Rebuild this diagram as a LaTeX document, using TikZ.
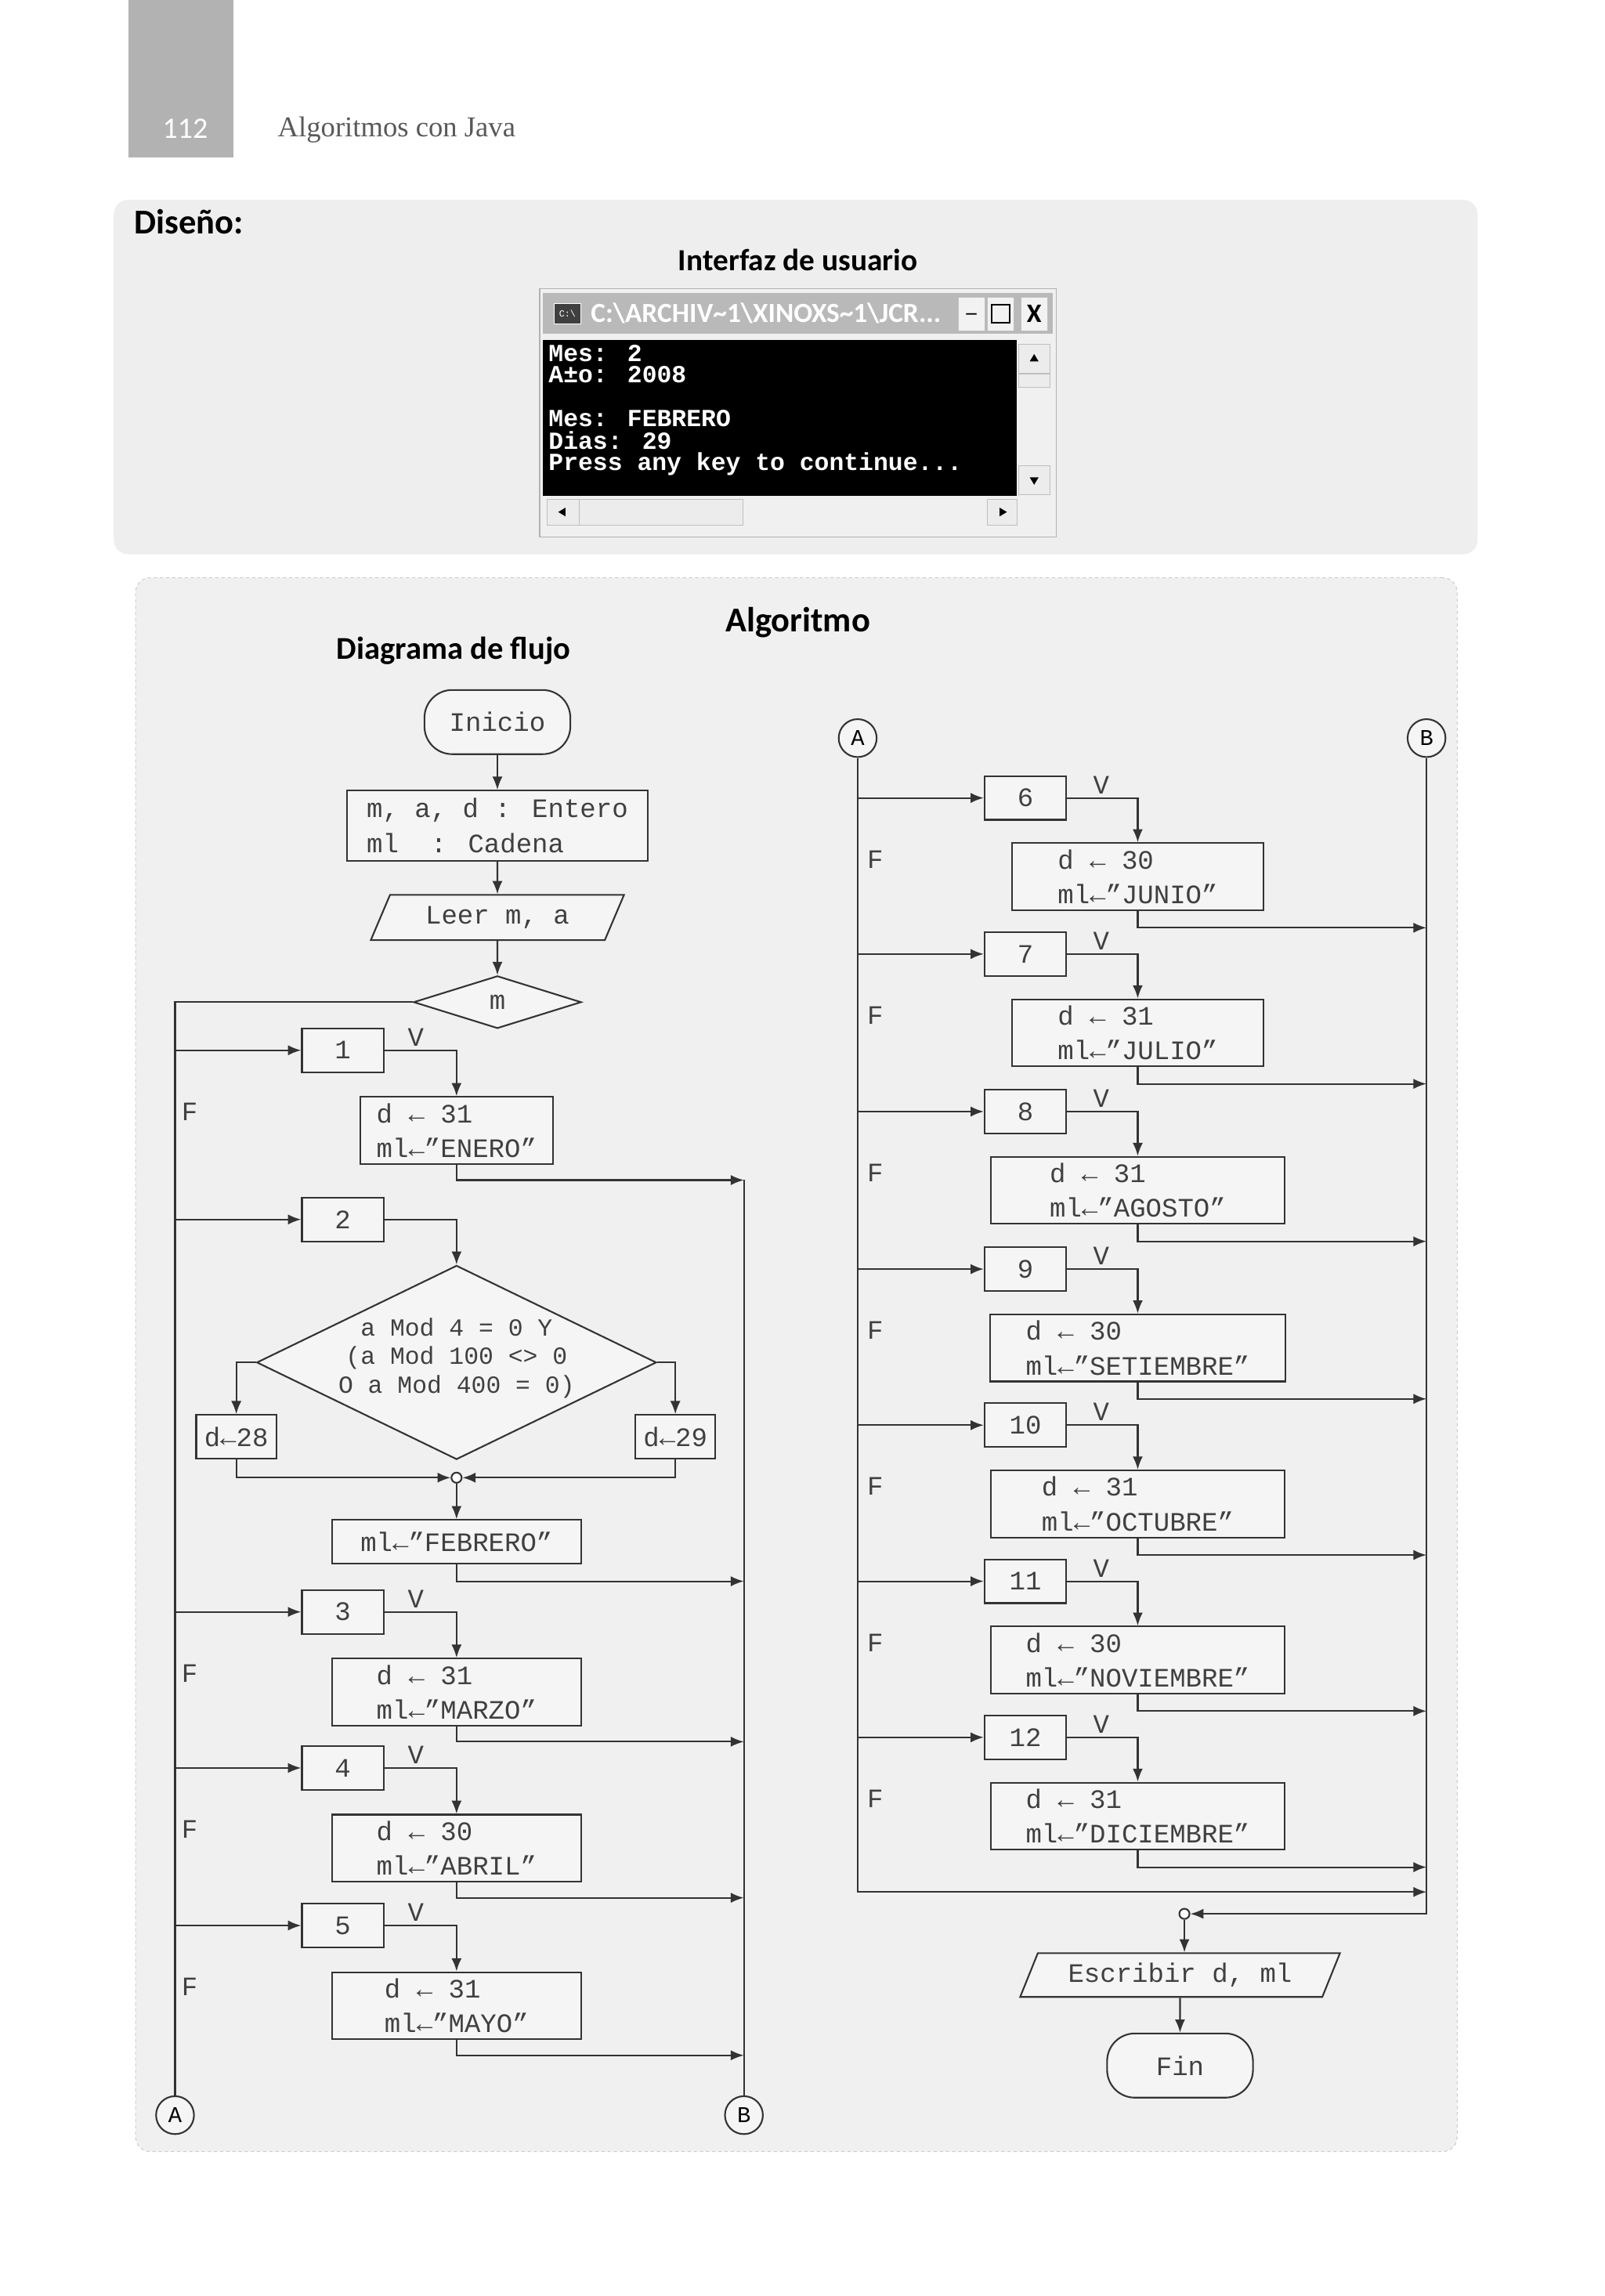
\documentclass[tikz,border=0pt]{standalone}
\usepackage{fontspec}
\setmainfont{Liberation Serif}
\newfontfamily\mono{Liberation Mono}
\newfontfamily\hd{Carlito}
\usetikzlibrary{arrows.meta,shapes.geometric,calc}
\begin{document}
\begin{tikzpicture}[x=0.05cm,y=-0.05cm,
  ln/.style={line width=1.6pt,draw=black!80},
  arr/.style={ln,-{Latex[length=0.45cm,width=0.35cm]}},
  box/.style={ln,fill=gray!8,inner sep=0pt,font=\mono\fontsize{26}{34}\selectfont,text=black!75},
  dbox/.style={box,align=left},
  lab/.style={font=\mono\fontsize{26}{30}\selectfont,text=black!75,inner sep=0pt},
  conn/.style={ln,circle,fill=gray!8,minimum size=1.3cm,inner sep=0pt,font=\mono\fontsize{22}{24}\selectfont},
  head/.style={font=\hd\bfseries\fontsize{34}{36}\selectfont,inner sep=0pt},
  term/.style={font=\mono\bfseries\fontsize{24}{26}\selectfont,text=white,inner sep=0pt,anchor=west},
  para/.style={box,trapezium,trapezium left angle=60,trapezium right angle=120,trapezium stretches=true},
  tri/.style={isosceles triangle,fill=black,inner sep=0pt,minimum height=0.25cm,minimum width=0.3cm,isosceles triangle stretches}]
\useasboundingbox[fill=white] (0,0) rectangle (1100,1574);
% page header
\node[fill=gray!60,draw=none,minimum width=72*0.05cm,minimum height=108*0.05cm,inner sep=0pt] (tab) at (124,54) {};
\node[font=\hd\fontsize{29}{30}\selectfont,text=white] (pg) at (127,88) {112};
\node[font=\fontsize{28}{30}\selectfont,text=black!65,anchor=west] (ttl) at (188,89) {Algoritmos con Java};
% top panel
\node[fill=gray!13,draw=none,rounded corners=0.5cm,minimum width=935*0.05cm,minimum height=243*0.05cm] (top) at (545.5,258.5) {};
\node[head,anchor=west] (dis) at (92,152) {Diseño:};
\node[head,font=\hd\bfseries\fontsize{30}{32}\selectfont] (iu) at (547,178) {Interfaz de usuario};
% console
\node[fill=gray!12,draw=gray!60,line width=1pt,minimum width=354*0.05cm,minimum height=170*0.05cm,inner sep=0pt] (win) at (547,283) {};
\node[fill=gray!55,minimum width=350*0.05cm,minimum height=28*0.05cm,inner sep=0pt] (bar) at (547,215) {};
\node[fill=black!75,draw=white,minimum width=18*0.05cm,minimum height=14*0.05cm,inner sep=0pt,font=\mono\fontsize{9}{9}\selectfont,text=white] (ico) at (389,215) {C:\textbackslash};
\node[font=\hd\bfseries\fontsize{27}{28}\selectfont,text=white,anchor=west,inner sep=0pt] (wt) at (405,215) {C:\textbackslash ARCHIV\textasciitilde1\textbackslash XINOXS\textasciitilde1\textbackslash JCR...};
\node[fill=gray!10,draw=gray!50,minimum width=18*0.05cm,minimum height=23*0.05cm,inner sep=0pt,font=\bfseries\fontsize{20}{20}\selectfont] (b1) at (666,215) {\_};
\node[fill=gray!10,draw=gray!50,minimum width=18*0.05cm,minimum height=23*0.05cm,inner sep=0pt] (b2) at (686,215) {};
\draw[line width=1.5pt] ($(b2.center)+(-6,-6)$) rectangle ($(b2.center)+(6,6)$);
\node[fill=gray!10,draw=gray!50,minimum width=18*0.05cm,minimum height=23*0.05cm,inner sep=0pt,font=\hd\bfseries\fontsize{26}{26}\selectfont] (b3) at (709,215) {X};
\node[fill=black,minimum width=325*0.05cm,minimum height=107*0.05cm,inner sep=0pt] (scr) at (534.5,286.5) {};
\node[term] (t1) at (376,242) {Mes: 2};
\node[term] (t2) at (376,257) {A±o: 2008};
\node[term] (t3) at (376,287) {Mes: FEBRERO};
\node[term] (t4) at (376,302) {Dias: 29};
\node[term] (t5) at (376,318) {Press any key to continue...};
\node[fill=gray!15,draw=gray!50,minimum width=22*0.05cm,minimum height=20*0.05cm,inner sep=0pt] (up) at (709,246) {};
\node[tri,shape border rotate=90] (upt) at (709,246) {};
\node[fill=gray!15,draw=gray!50,minimum width=22*0.05cm,minimum height=9*0.05cm,inner sep=0pt] (th) at (709,261) {};
\node[fill=gray!15,draw=gray!50,minimum width=22*0.05cm,minimum height=20*0.05cm,inner sep=0pt] (dn) at (709,329) {};
\node[tri,shape border rotate=-90] (dnt) at (709,329) {};
\node[fill=gray!15,draw=gray!50,minimum width=22*0.05cm,minimum height=18*0.05cm,inner sep=0pt] (lf) at (386,351) {};
\node[tri,shape border rotate=180] (lft) at (386,351) {};
\node[fill=gray!15,draw=gray!50,minimum width=112*0.05cm,minimum height=18*0.05cm,inner sep=0pt] (hth) at (453,351) {};
\node[fill=gray!15,draw=gray!50,minimum width=20*0.05cm,minimum height=18*0.05cm,inner sep=0pt] (rt) at (687,351) {};
\node[tri] (rtt) at (687,351) {};
% bottom panel
\node[fill=gray!12,draw=gray!40,dashed,line width=0.8pt,rounded corners=0.5cm,minimum width=906*0.05cm,minimum height=1079*0.05cm] (bot) at (546,935.5) {};
\node[head] (alg) at (547,427) {Algoritmo};
\node[head,font=\hd\bfseries\fontsize{31}{33}\selectfont] (dfl) at (311,446) {Diagrama de flujo};
% ---------- left flowchart
\node[ln,fill=gray!8,rounded corners=0.95cm,minimum width=100*0.05cm,minimum height=44*0.05cm,inner sep=0pt,font=\mono\fontsize{26}{30}\selectfont,text=black!75] (ini) at (341,495) {Inicio};
\node[dbox,minimum width=206*0.05cm,minimum height=48*0.05cm] (decl) at (341,566) {m, a, d : Entero\\ml \ : Cadena};
\node[para,minimum width=174*0.05cm,minimum height=31*0.05cm] (leer) at (341,629) {Leer m, a};
\node[box,diamond,minimum width=115*0.05cm,minimum height=36*0.05cm,aspect=3] (m) at (341,687) {m};
\draw[arr] (ini) -- (decl);
\draw[arr] (decl) -- (leer);
\draw[arr] (leer) -- (m);
\node[conn] (A1) at (120,1450) {A};
\node[conn] (B1) at (510,1450) {B};
\draw[ln] (m.west) -| (A1.north);
\newcommand\lmonth[5]{% name, num, y, width, text
  \node[box,minimum width=56*0.05cm,minimum height=30*0.05cm] (n#1) at (235,#3) {#2};
  \node[dbox,minimum width=#4*0.05cm,minimum height=46*0.05cm] (d#1) at (313,#3+55) {#5};
  \node[lab] (v#1) at (285,#3-9) {V};
  \node[lab] (f#1) at (130,#3+42) {F};
  \coordinate (o#1) at (510,#3+89);
  \draw[arr] (n#1.west -| A1.center) -- (n#1.west);
  \draw[arr] (n#1.east) -| (d#1.north);
  \draw[arr] (d#1.south) |- (o#1);}
\lmonth{1}{1}{720}{132}{d ← 31\\ml←”ENERO”}
\lmonth{3}{3}{1105}{171}{d ← 31\\ml←”MARZO”}
\lmonth{4}{4}{1212}{171}{d ← 30\\ml←”ABRIL”}
\lmonth{5}{5}{1320}{171}{d ← 31\\ml←”MAYO”}
\draw[ln] (o1) -- (B1.north);
% february
\node[box,minimum width=56*0.05cm,minimum height=30*0.05cm] (n2) at (235,836) {2};
\node[ln,diamond,aspect=2,minimum width=274*0.05cm,minimum height=133*0.05cm,inner sep=0pt,fill=gray!8] (cond) at (313,934) {};
\node[lab,align=center,font=\mono\fontsize{24}{28}\selectfont] (ct) at (313,931) {a Mod 4 = 0 Y\\ (a Mod 100 <> 0\\O a Mod 400 = 0)};
\node[box,minimum width=55*0.05cm,minimum height=30*0.05cm] (d28) at (162,985) {d←28};
\node[box,minimum width=55*0.05cm,minimum height=30*0.05cm] (d29) at (463,985) {d←29};
\node[ln,circle,fill=white,minimum size=0.35cm,inner sep=0pt] (mg) at (313,1013) {};
\node[box,minimum width=171*0.05cm,minimum height=30*0.05cm] (feb) at (313,1057) {ml←”FEBRERO”};
\coordinate (o2) at (510,1084);
\draw[arr] (n2.west -| A1.center) -- (n2.west);
\draw[arr] (n2.east) -| (cond.north);
\draw[arr] (cond.west) -| (d28.north);
\draw[arr] (cond.east) -| (d29.north);
\draw[arr] (d28.south) |- (mg.west);
\draw[arr] (d29.south) |- (mg.east);
\draw[arr] (mg) -- (feb);
\draw[arr] (feb.south) |- (o2);
% ---------- right flowchart
\node[conn] (A2) at (588,506) {A};
\node[conn] (B2) at (978,506) {B};
\newcommand\rmonth[5]{% name, num, y, width, text
  \node[box,minimum width=56*0.05cm,minimum height=30*0.05cm] (n#1) at (703,#3) {#2};
  \node[dbox,minimum width=#4*0.05cm,minimum height=46*0.05cm] (d#1) at (780,#3+54) {#5};
  \node[lab] (v#1) at (755,#3-9) {V};
  \node[lab] (f#1) at (600,#3+42) {F};
  \coordinate (o#1) at (978,#3+89);
  \draw[arr] (n#1.west -| A2.center) -- (n#1.west);
  \draw[arr] (n#1.east) -| (d#1.north);
  \draw[arr] (d#1.south) |- (o#1);}
\rmonth{6}{6}{547}{172}{d ← 30\\ml←”JUNIO”}
\rmonth{7}{7}{654}{172}{d ← 31\\ml←”JULIO”}
\rmonth{8}{8}{762}{201}{d ← 31\\ml←”AGOSTO”}
\rmonth{9}{9}{870}{202}{d ← 30\\ml←”SETIEMBRE”}
\rmonth{10}{10}{977}{201}{d ← 31\\ml←”OCTUBRE”}
\rmonth{11}{11}{1084}{201}{d ← 30\\ml←”NOVIEMBRE”}
\rmonth{12}{12}{1191}{201}{d ← 31\\ml←”DICIEMBRE”}
\coordinate (oe) at (978,1297);
\draw[arr] (A2.south) |- (oe);
\node[ln,circle,fill=white,minimum size=0.35cm,inner sep=0pt] (mg2) at (812,1312) {};
\draw[arr] (B2.south) |- (mg2.east);
\node[para,minimum width=220*0.05cm,minimum height=30*0.05cm] (esc) at (809,1354) {Escribir d, ml};
\node[ln,fill=gray!8,rounded corners=0.95cm,minimum width=100*0.05cm,minimum height=44*0.05cm,inner sep=0pt,font=\mono\fontsize{26}{30}\selectfont,text=black!75] (fin) at (809,1416) {Fin};
\draw[arr] (mg2.south) -- (mg2.south |- esc.north);
\draw[arr] (esc) -- (fin);
\end{tikzpicture}
\end{document}
